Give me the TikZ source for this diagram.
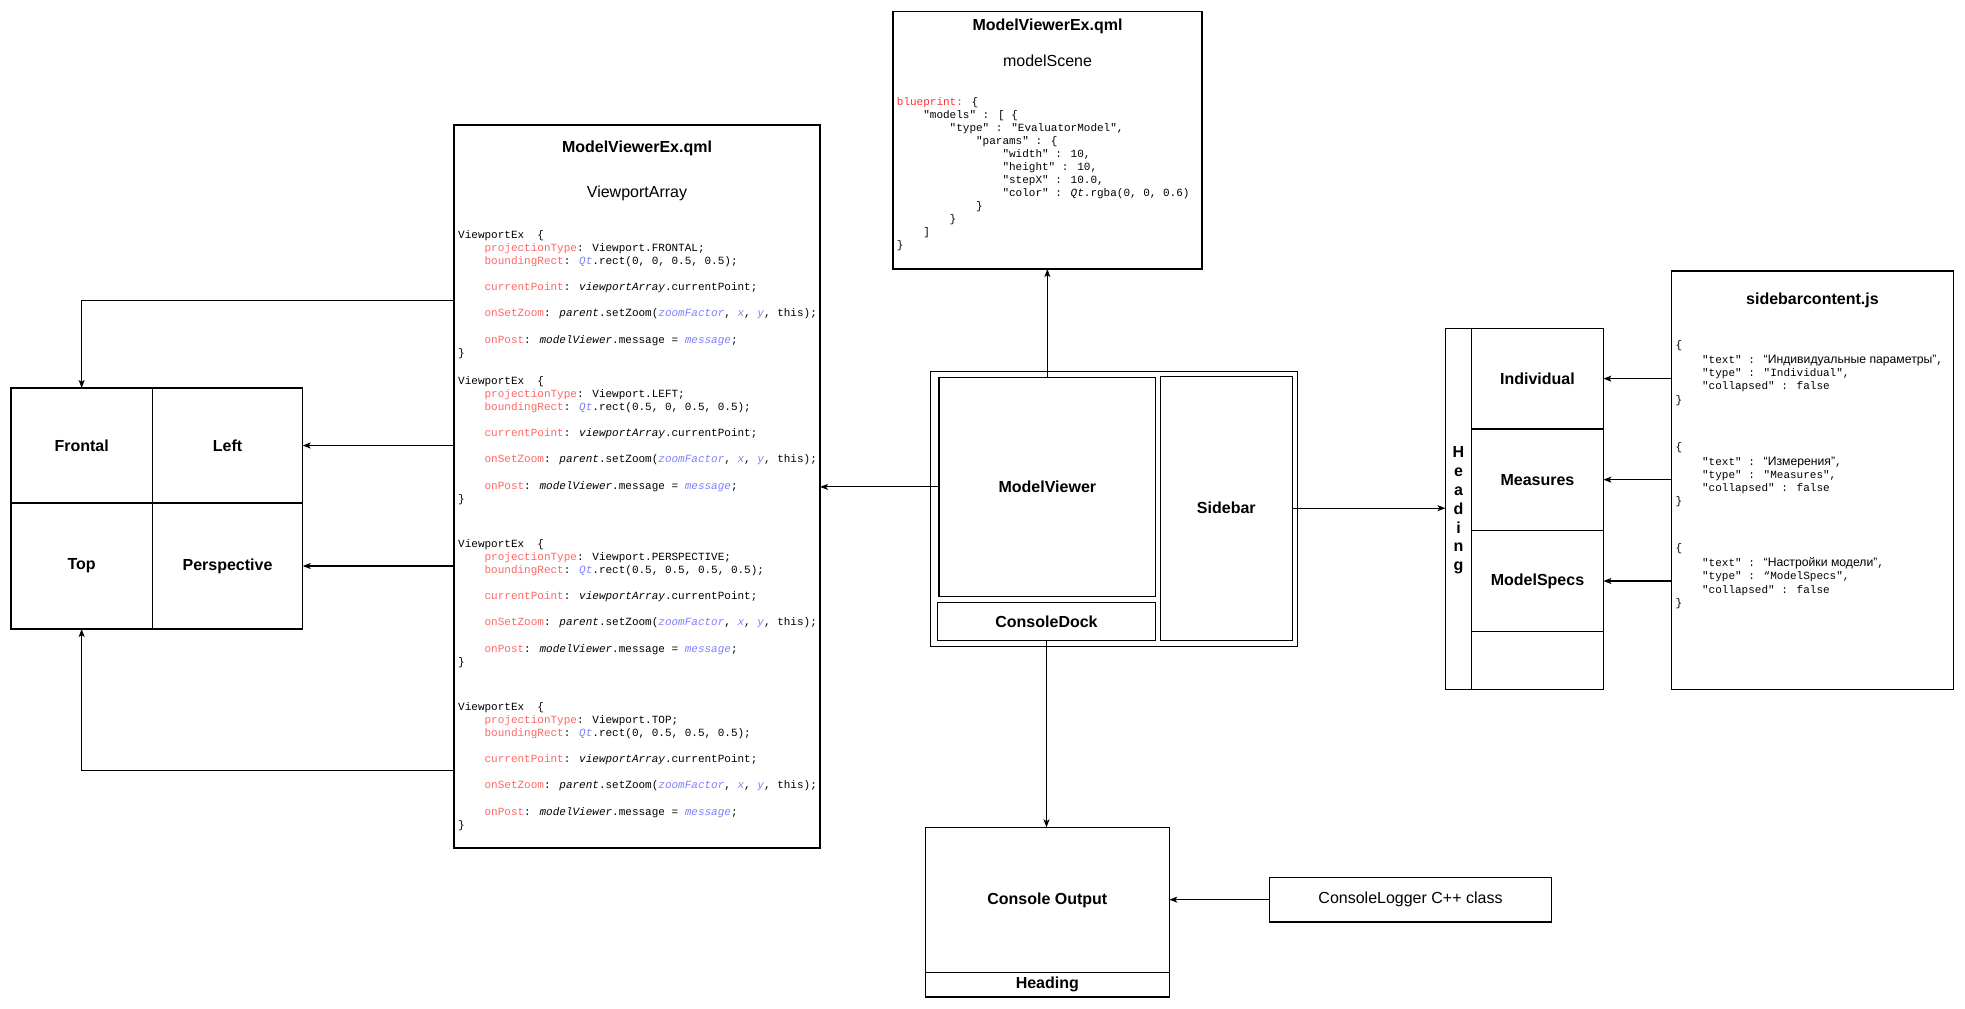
\documentclass[tikz,border=0pt]{standalone}
\usepackage{fontspec}
\setmainfont{Liberation Sans}
\newfontfamily\codefont{Liberation Mono}
\usetikzlibrary{arrows.meta}

\definecolor{keyred}{RGB}{255,102,102}
\definecolor{keyredstrong}{RGB}{255,51,51}
\definecolor{valblue}{RGB}{128,128,255}

% syntax colouring helpers for the code listings
\newcommand\kw[1]{\textcolor{keyred}{#1}}
\newcommand\vb[1]{\textcolor{valblue}{\itshape #1}}
\newcommand\ind{\hspace*{26.4pt}}
\newcommand\blankline{\mbox{}\par}
\newcommand\codetext[2][13.1pt]{%
  \begin{minipage}[t]{430pt}\codefont\fontsize{11}{#1}\selectfont
  \parindent=0pt\raggedright #2\end{minipage}}
\newcommand\ru[1]{{\rmfamily\fontsize{12.2}{13.3}\selectfont #1}}

\begin{document}
\begin{tikzpicture}[x=1pt,y=-1pt,
  box/.style={draw, line width=1.1pt, inner sep=0pt, outer sep=0pt},
  arr/.style={line width=1.1pt, -{Stealth[length=8pt,width=6pt,inset=2pt]}},
  lbl/.style={font=\bfseries\fontsize{16}{19}\selectfont},
  title/.style={anchor=base, inner sep=0pt, font=\bfseries\fontsize{16}{19}\selectfont},
  subtitle/.style={anchor=base, inner sep=0pt, font=\fontsize{16}{19}\selectfont},
  code/.style={anchor=base west, inner sep=0pt}]

\fill[white] (0,0) rectangle (1965,1009);
\useasboundingbox (0,0) rectangle (1965,1009);

% ---- viewport grid ----
\node[box, lbl, minimum width=141.3pt, minimum height=115pt] (frontal) at (81.65,445.5) {Frontal};
\node[box, lbl, minimum width=150.4pt, minimum height=115pt] (left) at (227.5,445.5) {Left};
\node[box, lbl, minimum width=141.3pt, minimum height=126pt] (top) at (81.65,566) {Top};
\node[box, lbl, minimum width=150.4pt, minimum height=126pt] (persp) at (227.5,566) {Perspective};

% ---- ViewportArray listing ----
\node[box, minimum width=366pt, minimum height=723pt] (codebox) at (637,486.5) {};
\node[title] (codetitle) at (637,152.7) {ModelViewerEx.qml};
\node[subtitle] (codesub) at (637,197.4) {ViewportArray};

\node[code] (vpfrontal) at (458,238.3) {\codetext{%
ViewportEx~~\{\par
\ind\kw{projectionType}: Viewport.FRONTAL;\par
\ind\kw{boundingRect}: \vb{Qt}.rect(0, 0, 0.5, 0.5);\par
\blankline
\ind\kw{currentPoint}: \textit{viewportArray}.currentPoint;\par
\blankline
\ind\kw{onSetZoom}: \textit{parent}.setZoom(\vb{zoomFactor}, \vb{x}, \vb{y}, this);\par
\blankline
\ind\kw{onPost}: \textit{modelViewer}.message = \vb{message};\par
\}}};

\node[code] (vpleft) at (458,384.3) {\codetext{%
ViewportEx~~\{\par
\ind\kw{projectionType}: Viewport.LEFT;\par
\ind\kw{boundingRect}: \vb{Qt}.rect(0.5, 0, 0.5, 0.5);\par
\blankline
\ind\kw{currentPoint}: \textit{viewportArray}.currentPoint;\par
\blankline
\ind\kw{onSetZoom}: \textit{parent}.setZoom(\vb{zoomFactor}, \vb{x}, \vb{y}, this);\par
\blankline
\ind\kw{onPost}: \textit{modelViewer}.message = \vb{message};\par
\}}};

\node[code] (vppersp) at (458,547.3) {\codetext{%
ViewportEx~~\{\par
\ind\kw{projectionType}: Viewport.PERSPECTIVE;\par
\ind\kw{boundingRect}: \vb{Qt}.rect(0.5, 0.5, 0.5, 0.5);\par
\blankline
\ind\kw{currentPoint}: \textit{viewportArray}.currentPoint;\par
\blankline
\ind\kw{onSetZoom}: \textit{parent}.setZoom(\vb{zoomFactor}, \vb{x}, \vb{y}, this);\par
\blankline
\ind\kw{onPost}: \textit{modelViewer}.message = \vb{message};\par
\}}};

\node[code] (vptop) at (458,710.3) {\codetext{%
ViewportEx~~\{\par
\ind\kw{projectionType}: Viewport.TOP;\par
\ind\kw{boundingRect}: \vb{Qt}.rect(0, 0.5, 0.5, 0.5);\par
\blankline
\ind\kw{currentPoint}: \textit{viewportArray}.currentPoint;\par
\blankline
\ind\kw{onSetZoom}: \textit{parent}.setZoom(\vb{zoomFactor}, \vb{x}, \vb{y}, this);\par
\blankline
\ind\kw{onPost}: \textit{modelViewer}.message = \vb{message};\par
\}}};

% ---- modelScene listing ----
\node[box, minimum width=309pt, minimum height=257.5pt] (scene) at (1047.5,140.25) {};
\node[title] (scenetitle) at (1047.5,30.7) {ModelViewerEx.qml};
\node[subtitle] (scenesub) at (1047.5,66.7) {modelScene};
\node[code] (blueprint) at (896.7,105.2) {\codetext[13.03pt]{%
\textcolor{keyredstrong}{blueprint:} \{\par
\ind "models" : [ \{\par
\ind\ind "type" : "EvaluatorModel",\par
\ind\ind\ind "params" : \{\par
\ind\ind\ind\ind "width" : 10,\par
\ind\ind\ind\ind "height" : 10,\par
\ind\ind\ind\ind "stepX" : 10.0,\par
\ind\ind\ind\ind "color" : \textit{Qt}.rgba(0, 0, 0.6)\par
\ind\ind\ind \}\par
\ind\ind \}\par
\ind ]\par
\}}};

% ---- main window ----
\node[box, minimum width=367pt, minimum height=274.8pt] (mainwin) at (1114,508.9) {};
\node[box, lbl, minimum width=216.7pt, minimum height=218.8pt] (mv) at (1047.35,486.9) {ModelViewer};
\node[box, lbl, minimum width=218.4pt, minimum height=37.7pt] (dock) at (1046.5,621.35) {ConsoleDock};
\node[box, lbl, minimum width=131.8pt, minimum height=264pt] (sidebar) at (1226.3,508.2) {Sidebar};

% ---- sidebar sections ----
\node[box, minimum width=26pt, minimum height=361.2pt] (sbhead) at (1458.5,508.9) {};
\node[align=center, inner sep=0pt, font=\bfseries\fontsize{16}{18.8}\selectfont] (sbheadtext) at (1458.5,510.5) {H\\e\\a\\d\\i\\n\\g};
\node[box, lbl, minimum width=131.9pt, minimum height=100.7pt] (ind) at (1537.45,378.65) {Individual};
\node[box, lbl, minimum width=131.9pt, minimum height=101.3pt] (meas) at (1537.45,479.65) {Measures};
\node[box, lbl, minimum width=131.9pt, minimum height=101.4pt] (specs) at (1537.45,581) {ModelSpecs};
\node[box, minimum width=131.9pt, minimum height=57.8pt] (spare) at (1537.45,660.6) {};

% ---- sidebarcontent.js ----
\node[box, minimum width=281.8pt, minimum height=418.5pt] (sbc) at (1812.4,480.25) {};
\node[title] (sbctitle) at (1812.4,304.7) {sidebarcontent.js};
\node[code] (sbcind) at (1675.5,348.3) {\codetext[13.3pt]{%
\{\par\vspace{1.7pt}
\ind "text" : \ru{“Индивидуальные параметры”},\par
\ind "type" : "Individual",\par
\ind "collapsed" : false\par
\}}};
\node[code] (sbcmeas) at (1675.5,450) {\codetext[13.3pt]{%
\{\par\vspace{1.7pt}
\ind "text" : \ru{“Измерения”},\par
\ind "type" : "Measures",\par
\ind "collapsed" : false\par
\}}};
\node[code] (sbcspecs) at (1675.5,551.6) {\codetext[13.3pt]{%
\{\par\vspace{1.7pt}
\ind "text" : \ru{“Настройки модели”},\par
\ind "type" : “ModelSpecs",\par
\ind "collapsed" : false\par
\}}};

% ---- console ----
\node[box, lbl, minimum width=244pt, minimum height=145.4pt] (conout) at (1047.3,900) {Console Output};
\node[box, lbl, minimum width=244pt, minimum height=24.3pt] (conhead) at (1047.3,984.85) {Heading};
\node[box, minimum width=282.4pt, minimum height=44.7pt, font=\fontsize{16}{19}\selectfont] (logger) at (1410.5,899.65) {ConsoleLogger C++ class};

% ---- connectors ----
\coordinate (frontaltap) at (454,300.8);
\coordinate (toptap) at (454,770.7);
\draw[arr] (frontaltap) -| (frontal.north);
\draw[arr] (codebox.west |- left.east) -- (left.east);
\draw[arr] (codebox.west |- persp.east) -- (persp.east);
\draw[arr] (toptap) -| (top.south);

\draw[arr] (mv.north) -- (mv.north |- scene.south);
\draw[arr] (mv.west) -- (mv.west -| codebox.east);
\draw[arr] (sidebar.east) -- (sidebar.east -| sbhead.west);
\draw[arr] (dock.south) -- (dock.south |- conout.north);
\draw[arr] (logger.west) -- (logger.west -| conout.east);

\draw[arr] (sbc.west |- ind.east) -- (ind.east);
\draw[arr] (sbc.west |- meas.east) -- (meas.east);
\draw[arr] (sbc.west |- specs.east) -- (specs.east);
\end{tikzpicture}
\end{document}
